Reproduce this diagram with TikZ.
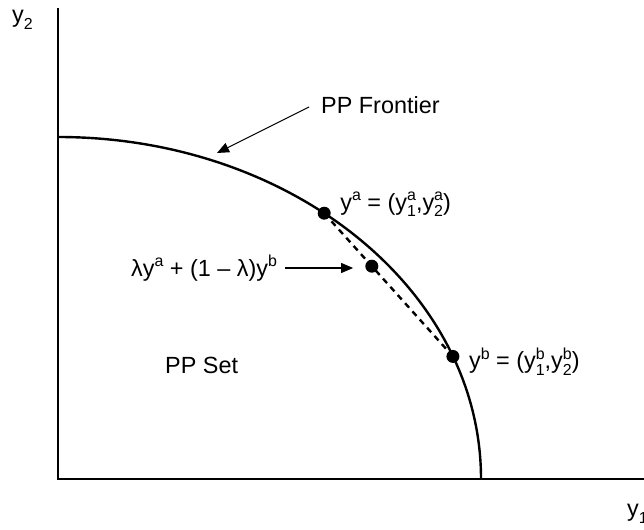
\documentclass[tikz,border=0pt]{standalone}
\usepackage{fontspec}
\setmainfont{Liberation Sans}
\usetikzlibrary{arrows.meta,positioning,calc}

% script size and raised/lowered scripts
\newcommand{\scr}{\fontsize{16}{16}\selectfont}
\newcommand{\up}[1]{\raisebox{0.42em}{\scr #1}}
\newcommand{\dn}[1]{\raisebox{-0.28em}{\scr #1}}
% y with stacked super- and subscript
\newcommand{\ysub}[2]{y\rlap{\up{#1}}\dn{#2}}

\tikzset{
  axis/.style={line width=1.7bp},
  frontier/.style={line width=2.4bp},
  chord/.style={line width=2.4bp, dash pattern=on 6bp off 5bp},
  pointer/.style={line width=1.1bp, -{Triangle[length=12bp,width=10bp]}},
  pt/.style={circle, fill=black, inner sep=0pt, minimum size=13bp},
  lbl/.style={font=\fontsize{23.5}{27}\selectfont, inner sep=0pt},
}

\begin{document}
\begin{tikzpicture}[x=1bp,y=1bp]
  \useasboundingbox (0,0) rectangle (644,530);

  % Axes
  \coordinate (O) at (58,51);
  \coordinate (ytop) at (58,522);
  \coordinate (xend) at (644,51);
  \draw[axis] (ytop) -- (O) -- (xend);
  \node[lbl, anchor=west] (y2) at (12,510) {y\dn{2}};
  \node[lbl, anchor=west] (y1) at (627,16) {y\dn{1}};

  % Frontier
  \draw[frontier] ($(O)+(0,342)$) arc[start angle=90, end angle=0, x radius=423bp, y radius=342bp];
  \coordinate (pa) at ($(O)+(51:423bp and 342bp)$);
  \coordinate (pb) at ($(O)+(21:423bp and 342bp)$);
  \coordinate (pm) at ($(pa)!0.37!(pb)$);

  % Chord and points
  \draw[chord] (pa) -- (pb);
  \node[pt] (da) at (pa) {};
  \node[pt] (db) at (pb) {};
  \node[pt] (dm) at (pm) {};

  \node[lbl, anchor=west] (la) at ([shift={(16,9)}]pa) {y\up{a} = (\ysub{a}{1},\ysub{a}{2})};
  \node[lbl, anchor=west] (lb) at ([shift={(16,-5)}]pb) {y\up{b} = (\ysub{b}{1},\ysub{b}{2})};

  % Convex combination
  \node[lbl, anchor=west] (lm) at (131,262) {λy\up{a} + (1 – λ)y\up{b}};
  \coordinate (mtip) at ([xshift=-12bp]dm.west);
  \draw[pointer] ([xshift=8bp]lm.east) -- (lm.east -| mtip);

  % Labels
  \node[lbl, anchor=west] (front) at (321,425) {PP Frontier};
  \coordinate (ftip) at (217,377);
  \draw[pointer] ([xshift=-12bp,yshift=-2bp]front.west) -- (ftip);
  \node[lbl, anchor=west] (set) at (165,165) {PP Set};
\end{tikzpicture}
\end{document}
